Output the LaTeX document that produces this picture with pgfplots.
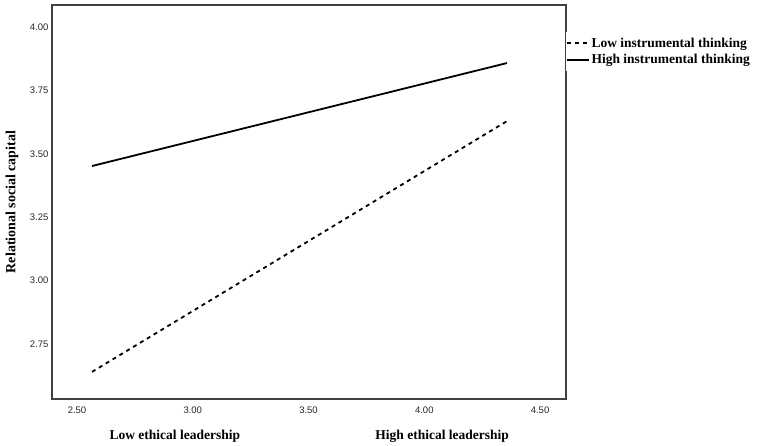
\documentclass[border=0pt]{standalone}
\usepackage{fontspec}
\setmainfont{Liberation Serif}
\newfontfamily\arial{Liberation Sans}
\usepackage{pgfplots}
\pgfplotsset{compat=1.18}
\begin{document}
\begin{tikzpicture}
% fixed page: 1px of the reference = 1pt
\useasboundingbox (-52pt,-46pt) rectangle (706pt,399pt);
\begin{axis}[
  scale only axis, width=514pt, height=394pt, clip=false,
  xmin=2.392, xmax=4.612, ymin=2.533, ymax=4.087,
  xtick={2.5,3,3.5,4,4.5}, ytick={2.75,3,3.25,3.5,3.75,4},
  /pgf/number format/fixed, /pgf/number format/fixed zerofill,
  /pgf/number format/precision=2,
  /pgf/number format/assume math mode=true,
  xticklabel style={yshift=-4pt},
  ticklabel style={font=\arial\fontsize{9.5}{11}\selectfont, text=black!85},
  major tick length=0pt,
  axis line style={draw=black!75, line width=1.5pt},
  ylabel={\bfseries Relational social capital},
  ylabel style={at={(axis description cs:-0.078,0.5)}, anchor=center, font=\fontsize{14}{16}\selectfont},
  legend style={at={(rel axis cs:1,1)}, anchor=north west, yshift=-27pt,
    draw=none, fill=white, inner xsep=0pt, inner ysep=4pt,
    font=\bfseries\fontsize{13.5}{15}\selectfont,
    nodes={inner sep=1.5pt}, row sep=3pt},
  legend cell align=left,
  legend image code/.code={\draw[#1] (-1pt,0pt) -- (21pt,0pt);},
]
\addplot[black, line width=1.8pt, dash pattern=on 4pt off 4pt] coordinates {(2.565,2.640) (4.357,3.629)};
\addlegendentry{Low instrumental thinking}
\addplot[black, line width=1.8pt] coordinates {(2.565,3.452) (4.357,3.858)};
\addlegendentry{High instrumental thinking}
\node[font=\bfseries\fontsize{13.5}{16}\selectfont] at (rel axis cs:0.239,0) [yshift=-37pt] {Low ethical leadership};
\node[font=\bfseries\fontsize{13.5}{16}\selectfont] at (rel axis cs:0.759,0) [yshift=-37pt] {High ethical leadership};
\end{axis}
\end{tikzpicture}
\end{document}
